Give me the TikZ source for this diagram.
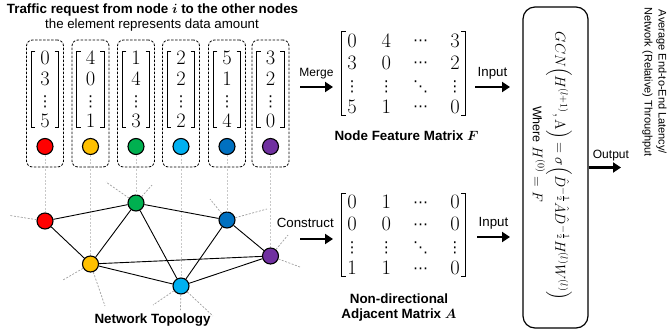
\RequirePackage{fix-cm}
\documentclass[tikz,border=0pt]{standalone}
\usepackage{amsmath}
\usepackage[no-math]{fontspec}
\setmainfont{Liberation Sans}
\newfontfamily\dvs{DejaVu Sans}
\usetikzlibrary{arrows.meta,matrix}
\newcommand\fsz[1]{\fontsize{#1}{#1}\selectfont}
\newcommand\vd{\text{\dvs\fsz{15}⋮}}
\newcommand\cd{\text{\raisebox{1.5pt}{\dvs\fsz{15}⋯}}}
\newcommand\dd{\text{\dvs\fsz{15}⋱}}
\definecolor{cRed}{HTML}{FF0000}
\definecolor{cYel}{HTML}{FFC000}
\definecolor{cGrn}{HTML}{00B050}
\definecolor{cCya}{HTML}{00B0F0}
\definecolor{cBlu}{HTML}{0070C0}
\definecolor{cPur}{HTML}{7030A0}
\definecolor{stubgray}{HTML}{A0A0A0}
\definecolor{vgray}{HTML}{C8C8C8}
\begin{document}
\begin{tikzpicture}[x=1pt,y=-1pt,
 lbl/.style={inner sep=0pt, font=\fsz{13.3}},
 boldlbl/.style={inner sep=0pt, font=\bfseries\fsz{13.4}},
 vbox/.style={draw, line width=0.8pt, dash pattern=on 2.5pt off 1.5pt, rounded corners=6pt, minimum width=37pt, minimum height=127pt, inner sep=0pt},
 tdot/.style={circle, draw, line width=1.1pt, minimum size=16pt, inner sep=0pt},
 vec/.style={matrix of math nodes, inner xsep=5.9pt, inner ysep=0pt, row sep=7.5pt, nodes={inner sep=0pt, text height=13.5pt, text depth=0pt, font=\fsz{20.5}}},
 mat/.style={matrix of math nodes, inner xsep=0pt, inner ysep=2pt, row sep=8.5pt, column sep=9.3pt, nodes={inner sep=0pt, minimum width=25pt, text height=13.5pt, text depth=0pt, font=\fsz{20.5}}},
 brk/.style={line width=1pt},
 topoedge/.style={line width=0.9pt},
 stub/.style={draw=stubgray, line width=0.7pt, dash pattern=on 2pt off 1.5pt},
 vline/.style={draw=vgray, line width=0.7pt, dash pattern=on 2pt off 1.5pt},
 bigarrow/.style={line width=2.6pt, -{Triangle[length=8pt,width=10pt]}},
]
\useasboundingbox (0,0) rectangle (668,335);

% titles
\node[boldlbl] (title) at (152.5,10) {Traffic request from node $\boldsymbol{i}$ to the other nodes};
\node[lbl] (subtitle) at (152,25) {the element represents data amount};

% dashed boxes
\node[vbox] (b1) at (45,103.5) {};
\node[vbox] (b2) at (90.5,103.5) {};
\node[vbox] (b3) at (136,103.5) {};
\node[vbox] (b4) at (181,103.5) {};
\node[vbox] (b5) at (227,103.5) {};
\node[vbox] (b6) at (270.5,103.5) {};

% vectors
\matrix (v1) [vec] at (45,89.5) { 0\\ 3\\ \vd\\ 5\\ };
\matrix (v2) [vec] at (90.5,89.5) { 4\\ 0\\ \vd\\ 1\\ };
\matrix (v3) [vec] at (136,89.5) { 1\\ 4\\ \vd\\ 3\\ };
\matrix (v4) [vec] at (181,89.5) { 2\\ 2\\ \vd\\ 2\\ };
\matrix (v5) [vec] at (227,89.5) { 5\\ 1\\ \vd\\ 4\\ };
\matrix (v6) [vec] at (270.5,89.5) { 3\\ 2\\ \vd\\ 0\\ };

% circles in boxes
\node[tdot, fill=cRed] (cr) at (45,146.5) {};
\node[tdot, fill=cYel] (cy) at (90.5,146.5) {};
\node[tdot, fill=cGrn] (cg) at (136,146.5) {};
\node[tdot, fill=cCya] (cc) at (181,146.5) {};
\node[tdot, fill=cBlu] (cb) at (227,146.5) {};
\node[tdot, fill=cPur] (cp) at (270.5,146.5) {};

% topology nodes
\node[tdot, fill=cRed] (nr) at (45,221) {};
\node[tdot, fill=cYel] (ny) at (90.5,264) {};
\node[tdot, fill=cGrn] (ng) at (136,203) {};
\node[tdot, fill=cCya] (nc) at (181,286) {};
\node[tdot, fill=cBlu] (nb) at (227,220) {};
\node[tdot, fill=cPur] (np) at (270.5,256) {};

% vertical dashed links
\foreach \a/\b in {cr/nr, cy/ny, cg/ng, cc/nc, cb/nb, cp/np}
  \draw[vline] (\a) -- (\b);

% stubs
\coordinate (sr1) at (10,215.5);
\coordinate (sg1) at (106,182);
\coordinate (sg2) at (152,185);
\coordinate (sy1) at (63,280);
\coordinate (sy2) at (105,306);
\coordinate (sc1) at (153,305);
\coordinate (sc2) at (180.5,310);
\coordinate (sc3) at (213,316);
\coordinate (sb1) at (210,199);
\coordinate (sb2) at (267,209);
\coordinate (sp1) at (288,235);
\coordinate (sp2) at (300,267);
\foreach \a/\b in {nr/sr1, ng/sg1, ng/sg2, ny/sy1, ny/sy2, nc/sc1, nc/sc2, nc/sc3, nb/sb1, nb/sb2, np/sp1, np/sp2}
  \draw[stub] (\a) -- (\b);

% topology edges
\foreach \a/\b in {nr/ng, nr/ny, ng/ny, ng/nc, ng/nb, ny/np, ny/nc, nc/nb, nc/np, nb/np}
  \draw[topoedge] (\a) -- (\b);

\node[boldlbl] (topo) at (152.5,320) {Network Topology};

% matrices
\matrix (F) [mat] at (403.5,73.5) {
 0 & 4 & \cd & 3\\
 3 & 0 & \cd & 2\\
 \vd & \vd & \dd & \vd\\
 5 & 1 & \cd & 0\\ };
\matrix (A) [mat] at (403.5,235) {
 0 & 1 & \cd & 0\\
 0 & 0 & \cd & 0\\
 \vd & \vd & \dd & \vd\\
 1 & 1 & \cd & 0\\ };

% brackets
\foreach \m/\s in {v1/0, v2/0, v3/0, v4/0, v5/0, v6/0, F/2.4, A/2.4} {
  \draw[brk] ([xshift=\s pt+4pt]\m.north west) -- ([xshift=\s pt]\m.north west)
     -- ([xshift=\s pt]\m.south west) -- ([xshift=\s pt+4pt]\m.south west);
  \draw[brk] ([xshift=-\s pt-4pt]\m.north east) -- ([xshift=-\s pt]\m.north east)
     -- ([xshift=-\s pt]\m.south east) -- ([xshift=-\s pt-4pt]\m.south east);
}

\node[boldlbl] (flbl) at (406.5,136) {Node Feature Matrix $\boldsymbol{F}$};
\node[boldlbl, align=center, font=\bfseries\fontsize{13.4}{15.5}\selectfont] (albl) at (399,307.5) {Non-directional\\Adjacent Matrix $\boldsymbol{A}$};

% arrows
\coordinate (m0) at (300,87);
\coordinate (m1) at (333,87);
\coordinate (k0) at (300,239);
\coordinate (k1) at (333,239);
\coordinate (i0) at (475,87);
\coordinate (i1) at (510,87);
\coordinate (j0) at (477,237);
\coordinate (j1) at (510,237);
\draw[bigarrow] (m0) -- node[lbl, font=\fsz{12}, anchor=base, yshift=10.5pt] (mlbl) {Merge} (m1);
\draw[bigarrow] (k0) -- node[lbl, pos=1, anchor=base east, xshift=2pt, yshift=11.5pt] (klbl) {Construct} (k1);
\draw[bigarrow] (i0) -- node[lbl, anchor=base, yshift=10.5pt] (ilbl) {Input} (i1);
\draw[bigarrow] (j0) -- node[lbl, anchor=base, yshift=10.5pt] (jlbl) {Input} (j1);

% GCN box
\node[draw, line width=1.2pt, rounded corners=12pt, minimum width=65pt, minimum height=321pt, inner sep=0pt] (gcn) at (555.5,167.5) {};
\node[rotate=-90, inner sep=0pt, font=\fsz{14.5}] (eq1) at (559,166)
 {$GCN\Big(H^{(l+1)},\mathrm{A}\Big)=\sigma\Big(\hat{D}^{-\frac{1}{2}}\hat{A}\hat{D}^{-\frac{1}{2}}H^{(l)}W^{(l)}\Big)$};
\node[rotate=-90, inner sep=0pt, font=\fsz{14}] (eq2) at (539,154)
 {{\fsz{12.5}Where} $H^{(0)}=F$};

\coordinate (o1) at (621,167.5);
\draw[bigarrow] (gcn.east) -- node[lbl, font=\fsz{12}, pos=0, anchor=base west, xshift=3pt, yshift=8.7pt] (olbl) {Output} (o1);

\node[rotate=-90, align=center, inner sep=0pt, font=\fontsize{11}{14}\selectfont] (result) at (654.5,82)
 {Average End-to-End Latency/\\Network (Relative) Throughput};
\end{tikzpicture}
\end{document}
